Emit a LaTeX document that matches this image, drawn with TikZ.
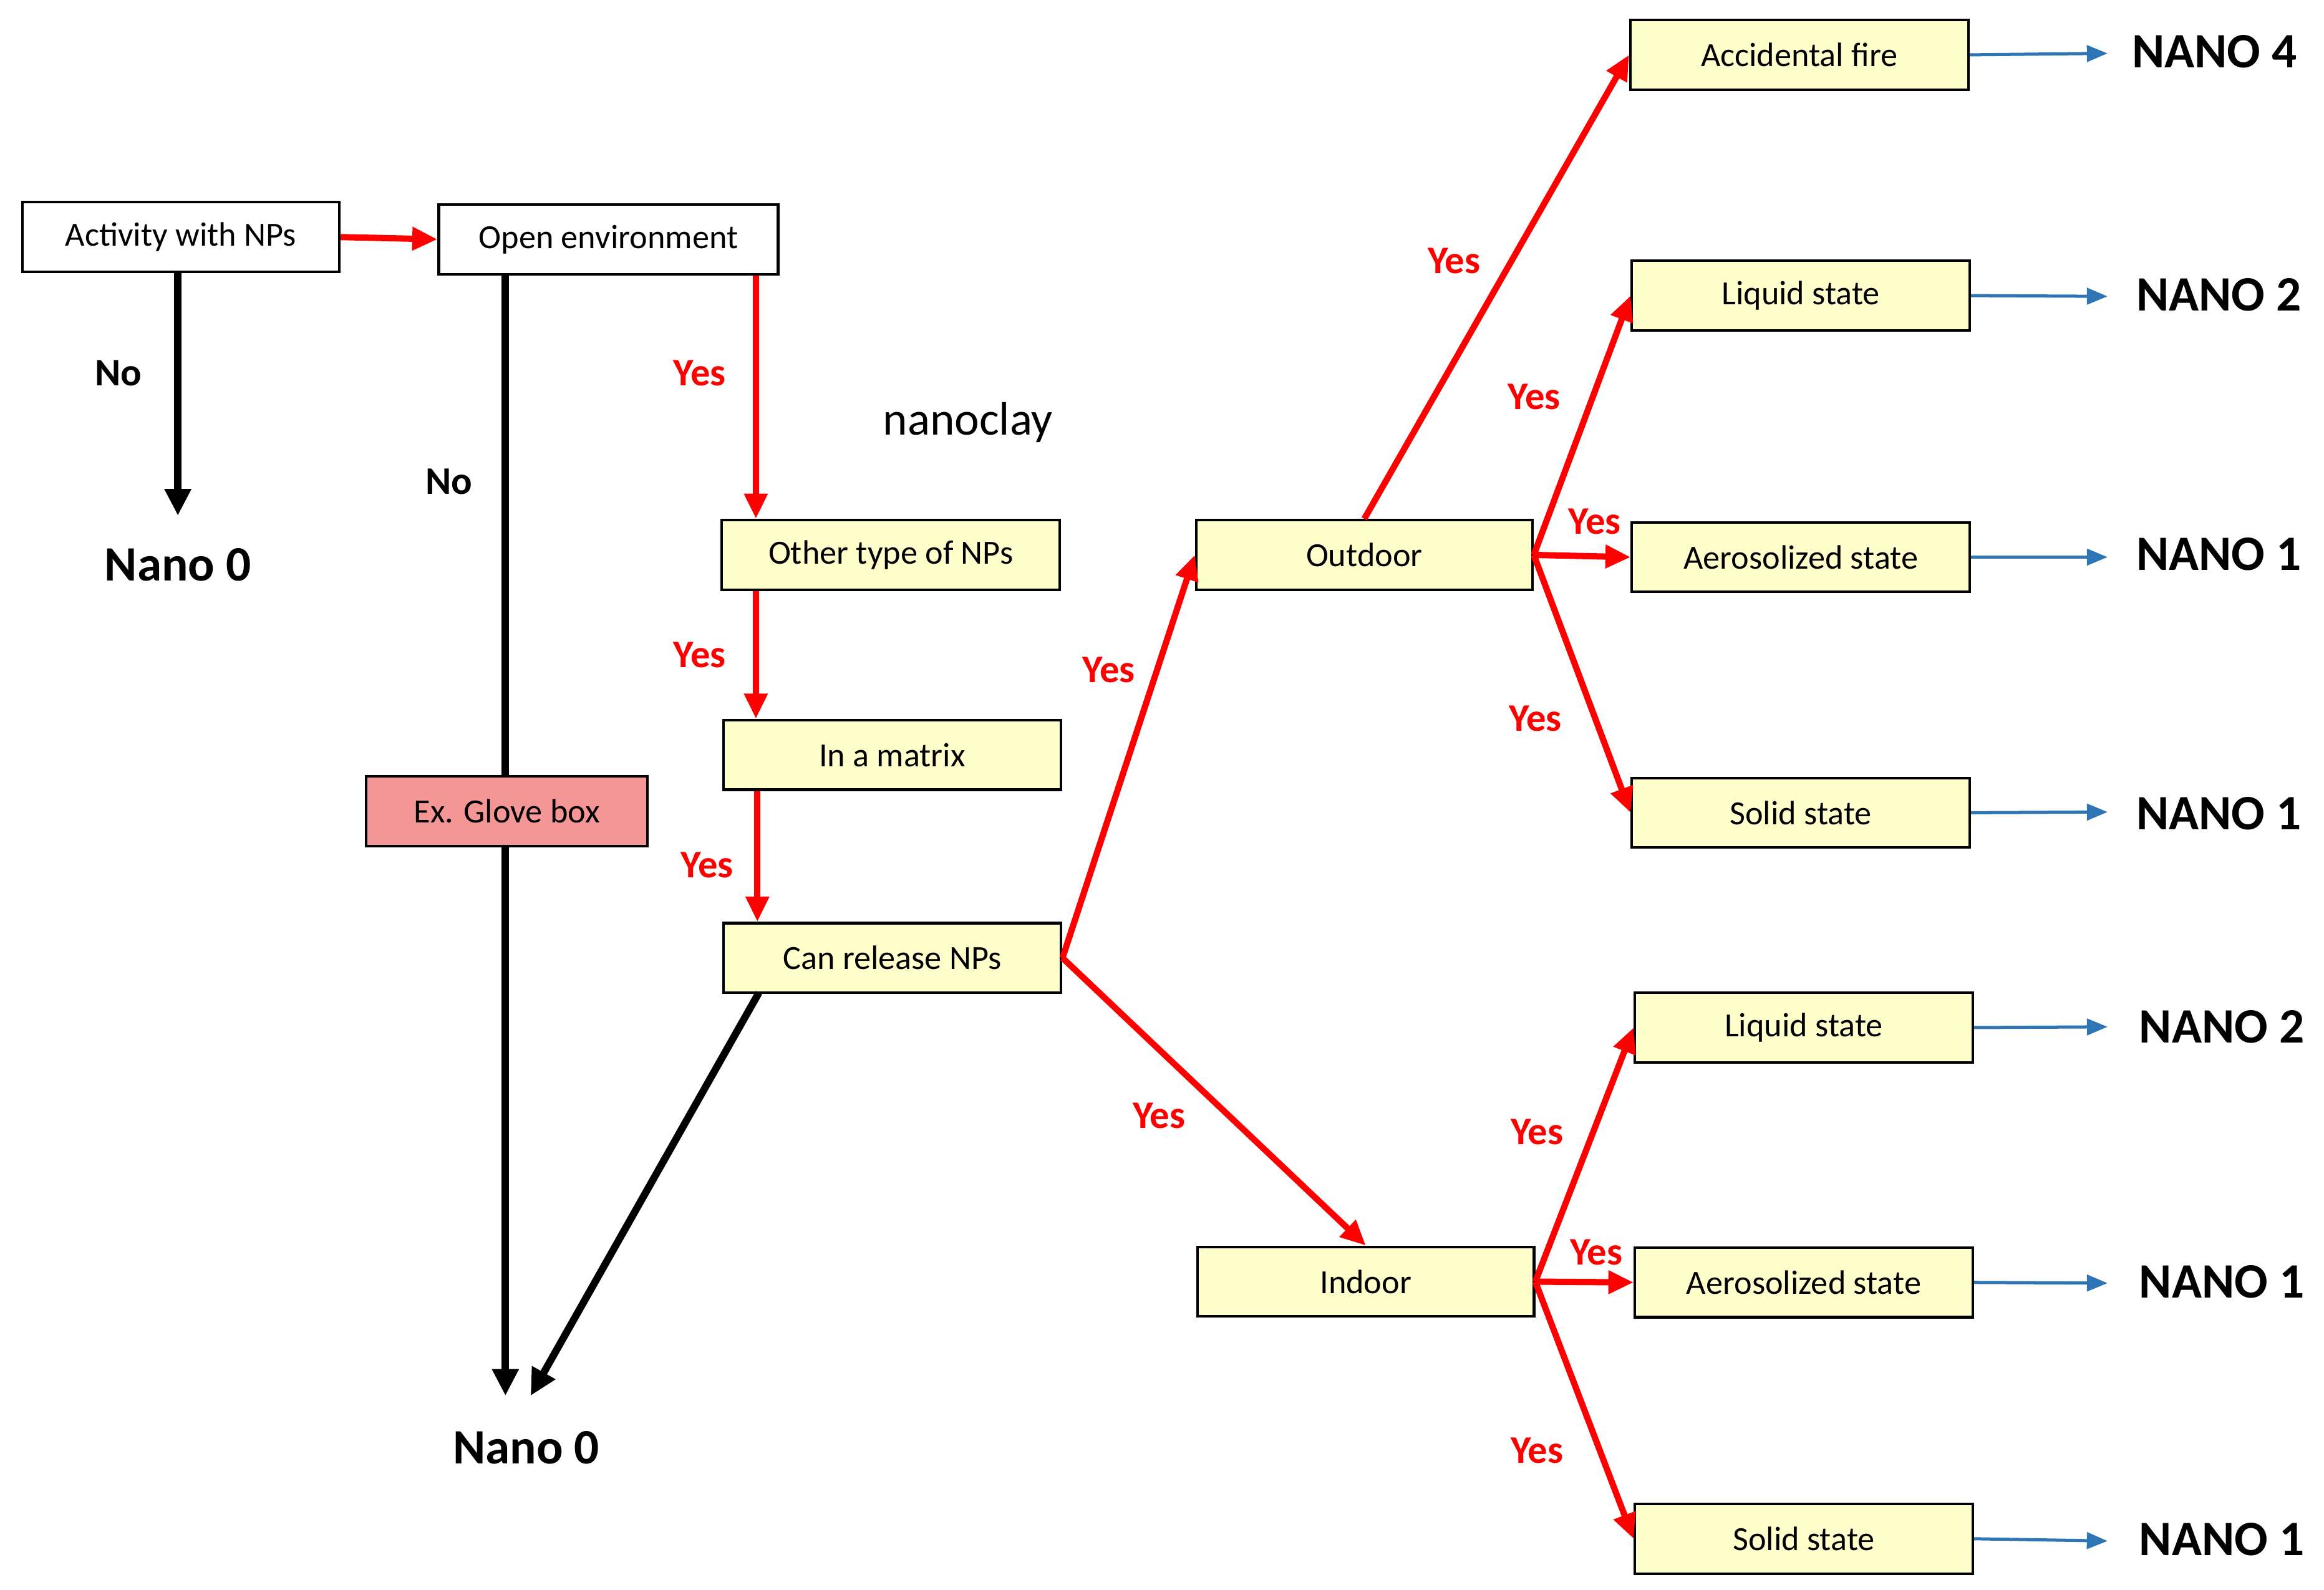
\documentclass[tikz,border=0pt]{standalone}
\usepackage{fontspec}
\setmainfont{Carlito}
\usetikzlibrary{arrows.meta,calc}
\begin{document}
\begin{tikzpicture}[x=0.02cm,y=-0.02cm,
  box/.style={draw,line width=1pt,minimum width=4.56cm,minimum height=0.94cm,inner sep=0pt,font=\fontsize{13}{15}\selectfont},
  ybox/.style={box,fill=yellow!25!white,fill={rgb,255:red,255;green,255;blue,204}},
  red/.style={draw={rgb,255:red,255;green,0;blue,0},line width=2.4pt,-{Triangle[length=0.34cm,width=0.3cm]}},
  blk/.style={draw=black,line width=2.8pt,-{Triangle[length=0.36cm,width=0.34cm]}},
  blu/.style={draw={rgb,255:red,46;green,117;blue,182},line width=1.2pt,-{Triangle[length=0.28cm,width=0.22cm]}},
  yes/.style={text={rgb,255:red,255;green,0;blue,0},font=\bfseries\fontsize{15}{17}\selectfont},
  no/.style={font=\bfseries\fontsize{15}{17}\selectfont},
  nano/.style={font=\bfseries\fontsize{19}{21}\selectfont}]
\useasboundingbox (0,0) rectangle (1568,1073);
% nodes
\node[box,minimum width=4.28cm] (act) at (122,160) {Activity with NPs};
\node[box,minimum width=4.58cm] (open) at (410.5,161.5) {Open environment};
\node[ybox] (oth) at (601,374.5) {Other type of NPs};
\node[ybox] (mat) at (602,509.5) {In a matrix};
\node[ybox] (cr) at (602,646.5) {Can release NPs};
\node[box,minimum width=3.8cm,fill={rgb,255:red,244;green,150;blue,150}] (gb) at (342,547.5) {Ex. Glove box};
\node[ybox,minimum width=4.54cm] (out) at (920.5,374.5) {Outdoor};
\node[ybox,minimum width=4.54cm] (ind) at (921.5,865) {Indoor};
\node[ybox] (af) at (1214,37) {Accidental fire};
\node[ybox] (l1) at (1215,199.5) {Liquid state};
\node[ybox] (a1) at (1215,376) {Aerosolized state};
\node[ybox] (s1) at (1215,548.5) {Solid state};
\node[ybox] (l2) at (1217,693.5) {Liquid state};
\node[ybox] (a2) at (1217,865.5) {Aerosolized state};
\node[ybox] (s2) at (1217,1038.5) {Solid state};
\node[nano] (n0a) at (120,381) {Nano 0};
\node[nano] (n0b) at (355,977) {Nano 0};
\node[font=\fontsize{18}{20}\selectfont] (nc) at (653,285) {nanoclay};
\node[nano] (N4) at (1494,35) {NANO 4};
\node[nano] (N2a) at (1497,199) {NANO 2};
\node[nano] (N1a) at (1497,374) {NANO 1};
\node[nano] (N1b) at (1497,549) {NANO 1};
\node[nano] (N2b) at (1499,693) {NANO 2};
\node[nano] (N1c) at (1499,865) {NANO 1};
\node[nano] (N1d) at (1499,1039) {NANO 1};
% coordinates
\coordinate (ga) at (341,185);
\coordinate (gbend) at (341,942);
\coordinate (crb) at (512,670);
\coordinate (crend) at (358,942);
\coordinate (na) at (120,348);
\foreach \n/\y in {N4/36,N2a/200,N1a/376,N1b/548,N2b/693,N1c/866,N1d/1040}{\coordinate (t\n) at (1422,\y);}
% black
\begin{scope}[on background layer/.style={}]
\draw[blk] (ga) -- (gbend);
\end{scope}
\node[box,minimum width=3.8cm,fill={rgb,255:red,244;green,150;blue,150}] at (gb) {Ex. Glove box};
\draw[blk] (act.south -| na) -- (na);
\draw[blk] (crb) -- (crend);
% red
\draw[red] (act.east) -- (open.west);
\draw[red] (open.south -| 510,0) -- (oth.north -| 510,0);
\draw[red] (oth.south -| 510,0) -- (mat.north -| 510,0);
\draw[red] (mat.south -| 511,0) -- (cr.north -| 511,0);
\draw[red] (cr.east) -- (out.west);
\draw[red] (cr.east) -- (ind.north);
\draw[red] (out.north) -- (af.west);
\draw[red] (out.east) -- (l1.west);
\draw[red] (out.east) -- (a1.west);
\draw[red] (out.east) -- (s1.west);
\draw[red] (ind.east) -- (l2.west);
\draw[red] (ind.east) -- (a2.west);
\draw[red] (ind.east) -- (s2.west);
% blue
\draw[blu] (af.east) -- (tN4);
\draw[blu] (l1.east) -- (tN2a);
\draw[blu] (a1.east) -- (tN1a);
\draw[blu] (s1.east) -- (tN1b);
\draw[blu] (l2.east) -- (tN2b);
\draw[blu] (a2.east) -- (tN1c);
\draw[blu] (s2.east) -- (tN1d);
% labels
\node[no] at (80,252) {No};
\node[no] at (303,325) {No};
\foreach \x/\y in {472/252,472/442,477/584,748/452,782/753,981/176,1035/268,1076/352,1036/485,1037/764,1077/845,1037/979}{\node[yes] at (\x,\y) {Yes};}
\end{tikzpicture}
\end{document}
